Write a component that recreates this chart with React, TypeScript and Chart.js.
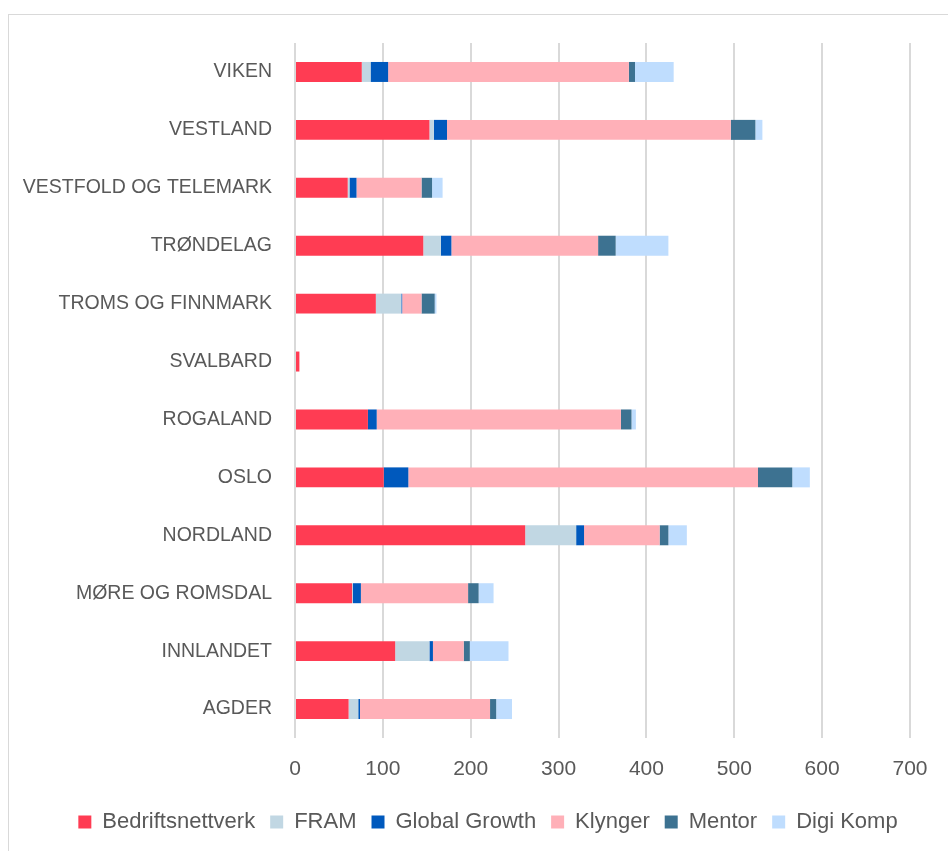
import React, { useEffect, useRef } from "react";
import { Chart, registerables } from "chart.js";

Chart.register(...registerables);

const categories = [
  "VIKEN",
  "VESTLAND",
  "VESTFOLD OG TELEMARK",
  "TRØNDELAG",
  "TROMS OG FINNMARK",
  "SVALBARD",
  "ROGALAND",
  "OSLO",
  "NORDLAND",
  "MØRE OG ROMSDAL",
  "INNLANDET",
  "AGDER",
];

const bedriftsnettverk = [76, 153, 60, 146, 92, 5, 83, 101, 262, 65, 114, 61];
const fram = [10, 5, 2, 20, 29, 0, 0, 0, 58, 1, 39, 11];
const globalGrowth = [20, 15, 8, 12, 1, 0, 10, 28, 9, 9, 4, 2];
const klynger = [274, 323, 74, 167, 22, 0, 278, 398, 86, 122, 35, 148];
const mentor = [7, 28, 12, 20, 15, 0, 12, 39, 10, 12, 7, 7];
const digiKomp = [44, 8, 12, 60, 2, 0, 5, 20, 21, 17, 44, 18];

const xTicks = [0, 100, 200, 300, 400, 500, 600, 700];

const FONT = "'Liberation Sans', Arial, sans-serif";
const TEXT = "#595959";

const legendShift = {
  id: "legendShift",
  afterLayout(chart: any) {
    const lg = chart.legend;
    if (lg) {
      lg.left += 33;
      lg.right += 33;
    }
  },
};

export default function App() {
  const ref = useRef<HTMLCanvasElement | null>(null);

  useEffect(() => {
    if (!ref.current) return;
    const mk = (label: string, data: number[], color: string) => ({
      label,
      data,
      backgroundColor: color,
      borderWidth: 0,
      barPercentage: 0.345,
      categoryPercentage: 1,
    });
    const chart = new Chart(ref.current, {
      type: "bar",
      data: {
        labels: categories,
        datasets: [
          mk("Bedriftsnettverk", bedriftsnettverk, "#FF3C53"),
          mk("FRAM", fram, "#C1D7E3"),
          mk("Global Growth", globalGrowth, "#0059BD"),
          mk("Klynger", klynger, "#FFB0B8"),
          mk("Mentor", mentor, "#3D7291"),
          mk("Digi Komp", digiKomp, "#BFDDFE"),
        ],
      },
      plugins: [legendShift],
      options: {
        indexAxis: "y",
        animation: false,
        responsive: false,
        maintainAspectRatio: false,
        layout: { padding: { top: 43, right: 38, left: 0, bottom: 8 } },
        plugins: {
          tooltip: { enabled: false },
          legend: {
            position: "bottom",
            labels: {
              color: TEXT,
              font: { family: FONT, size: 22 },
              boxWidth: 13,
              boxHeight: 13,
              padding: 15,
            },
          },
        },
        scales: {
          x: {
            stacked: true,
            min: 0,
            max: 700,
            afterBuildTicks: (s: any) => {
              s.ticks = xTicks.map((v) => ({ value: v }));
            },
            afterFit: (s: any) => {
              s.height = 58;
            },
            grid: { color: "#D9D9D9", lineWidth: 2, drawTicks: false },
            border: { display: false },
            ticks: {
              color: TEXT,
              font: { family: FONT, size: 21 },
              padding: 19,
            },
          },
          y: {
            stacked: true,
            afterFit: (s: any) => {
              s.width = 295;
            },
            grid: { display: false, drawTicks: false },
            border: { display: false },
            ticks: {
              color: TEXT,
              font: { family: FONT, size: 19.5 },
              padding: 23,
              autoSkip: false,
            },
          },
        },
      },
    });
    return () => chart.destroy();
  }, []);

  return (
    <div
      style={{
        position: "fixed",
        left: 0,
        top: 0,
        width: 948,
        height: 851,
        overflow: "hidden",
        background: "#fff",
      }}
    >
      <div
        style={{
          position: "absolute",
          left: 8,
          top: 14,
          width: 1000,
          height: 1000,
          border: "1.5px solid #D9D9D9",
          boxSizing: "border-box",
        }}
      />
      <canvas
        ref={ref}
        width={948}
        height={851}
        style={{ position: "absolute", left: 0, top: 0, width: 948, height: 851 }}
      />
    </div>
  );
}
